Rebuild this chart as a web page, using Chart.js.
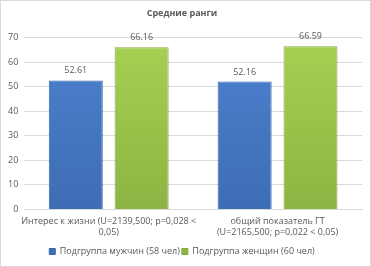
<!DOCTYPE html>
<html>
<head>
<meta charset="utf-8">
<script src="https://cdn.jsdelivr.net/npm/chart.js@4"></script>
<style>
  body { margin: 0; background: #fff; }
  #wrap { width: 371px; height: 267px; box-sizing: border-box; border: 1px solid #d9d9d9; position: relative; }
</style>
</head>
<body>
<div id="wrap"><canvas id="myChart"></canvas></div>
<script>
const categories = [
  ['Интерес к жизни (U=2139,500; p=0,028 <', '0,05)'],
  ['общий показатель ГТ', '(U=2165,500; p=0,022 < 0,05)']
];
const menValues = [52.61, 52.16];
const womenValues = [66.16, 66.59];
const seriesNames = ['Подгруппа мужчин (58 чел)', 'Подгруппа женщин (60 чел)'];

const grey = '#595959';
const fontFamily = '"Open Sans", sans-serif';

// вертикальный градиент для столбцов
function grad(top, bottom) {
  return (c) => {
    const area = c.chart.chartArea;
    if (!area) return top;
    const g = c.chart.ctx.createLinearGradient(0, area.top, 0, area.bottom);
    g.addColorStop(0, top);
    g.addColorStop(1, bottom);
    return g;
  };
}

// подписи значений над столбцами
const valueLabels = {
  id: 'valueLabels',
  afterDatasetsDraw(chart) {
    const ctx = chart.ctx;
    ctx.save();
    ctx.fillStyle = grey;
    ctx.font = '9px ' + fontFamily;
    ctx.textAlign = 'center';
    ctx.textBaseline = 'bottom';
    chart.data.datasets.forEach((ds, i) => {
      chart.getDatasetMeta(i).data.forEach((bar, j) => {
        ctx.fillText(ds.data[j].toFixed(2), bar.x, bar.y - 5);
      });
    });
    ctx.restore();
  }
};

const ctx = document.getElementById('myChart').getContext('2d');
const chart = new Chart(ctx, {
  type: 'bar',
  data: {
    labels: categories,
    datasets: [
      {
        label: seriesNames[0],
        data: menValues,
        backgroundColor: grad('#4C82D0', '#3D6DB4'),
        borderColor: '#3A65A6',
        borderWidth: 1
      },
      {
        label: seriesNames[1],
        data: womenValues,
        backgroundColor: grad('#A6D152', '#8DB443'),
        borderColor: '#82A83D',
        borderWidth: 1
      }
    ]
  },
  options: {
    responsive: true,
    maintainAspectRatio: false,
    animation: false,
    datasets: {
      bar: { categoryPercentage: 0.78, barPercentage: 0.82 }
    },
    layout: { padding: { left: 1, right: 8, top: 0, bottom: 0 } },
    plugins: {
      title: {
        display: true,
        text: 'Средние ранги',
        color: grey,
        font: { family: fontFamily, size: 9, weight: 'bold' },
        padding: { top: 7, bottom: 19 }
      },
      legend: {
        position: 'bottom',
        labels: {
          color: grey,
          boxWidth: 6,
          boxHeight: 6,
          padding: 2,
          font: { family: fontFamily, size: 9 }
        }
      },
      tooltip: { enabled: false }
    },
    scales: {
      x: {
        grid: { display: false, tickLength: 0 },
        border: { color: '#d9d9d9' },
        ticks: {
          color: grey,
          maxRotation: 0,
          autoSkip: false,
          padding: 7,
          font: { family: fontFamily, size: 9, lineHeight: 1.2 }
        }
      },
      y: {
        min: 0,
        max: 70,
        grid: { color: '#d9d9d9', drawTicks: false, tickLength: 0 },
        border: { display: false },
        ticks: {
          stepSize: 10,
          color: grey,
          padding: 6,
          font: { family: fontFamily, size: 9 }
        }
      }
    }
  },
  plugins: [valueLabels]
});
</script>
</body>
</html>
